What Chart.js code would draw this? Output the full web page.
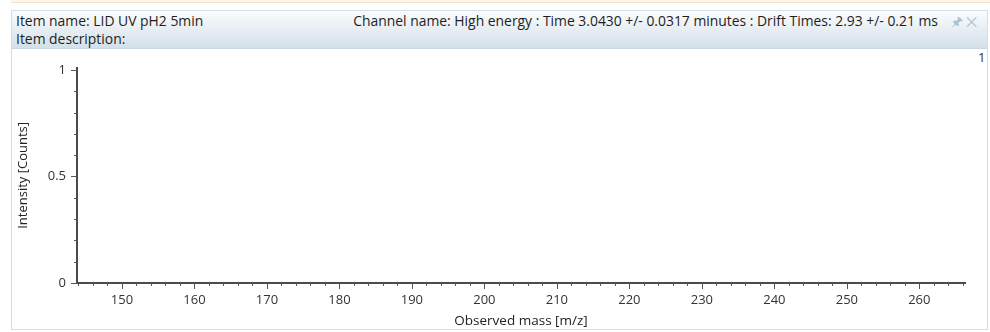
<!DOCTYPE html>
<html>
<head>
<meta charset="utf-8">
<script src="https://cdn.jsdelivr.net/npm/chart.js@4/dist/chart.umd.min.js"></script>
<style>
  body { margin: 0; width: 990px; height: 332px; background: #fff; font-family: "Open Sans", sans-serif; overflow: hidden; position: relative; }
  .topstrip { position: absolute; left: 11px; top: 0; width: 979px; height: 2px; background: #fbf6e8; border-bottom: 1px solid #efe6cf; }
  .panel { position: absolute; left: 11px; top: 10px; width: 975px; height: 318px; border: 1px solid #cfe0ea; background: #fff; }
  .header { position: absolute; left: 0; top: 0; width: 975px; height: 37px; background: linear-gradient(#fbfcfd, #d3e0e8); border-bottom: 1px solid #c9d9e3; font-size: 13.9px; color: #1e1e1e; }
  .header .l1 { position: absolute; left: 4px; top: 0px; }
  .header .l2 { position: absolute; left: 4px; top: 18px; }
  .header .r1 { position: absolute; right: 49px; top: 0px; }
  .header .icons { position: absolute; right: 10px; top: 1px; color: #aebfcc; font-size: 13px; }
  .corner { position: absolute; left: 978px; top: 48px; font-size: 13px; color: #333; }
  #wrap { position: absolute; left: 12px; top: 49px; width: 975px; height: 280px; }
</style>
</head>
<body>
<div class="topstrip"></div>
<div class="panel">
  <div class="header">
    <span class="l1">Item name: LID UV pH2 5min</span>
    <span class="l2">Item description:</span>
    <span class="r1">Channel name: High energy : Time 3.0430 +/- 0.0317 minutes : Drift Times: 2.93 +/- 0.21 ms</span>
    <span class="icons">&#x1F588;&nbsp;&#x2715;</span>
  </div>
</div>
<div class="corner">1</div>
<div id="wrap"><canvas id="spectrum-chart"></canvas></div>
<script>
// spectrum data (empty trace in the picture)
const massValues = []
const intensityValues = []

// axis ranges and tick labels
const xRange = [143.8, 266.3]
const yRange = [0, 1.01]
const xTicks = [150, 160, 170, 180, 190, 200, 210, 220, 230, 240, 250, 260]
const yTicks = [0, 0.5, 1]
const xMinorStep = 2
const yMinorStep = 0.1

Chart.defaults.font.family = "'Open Sans', sans-serif"
Chart.defaults.font.size = 13
Chart.defaults.color = '#333'

// draws the major/minor tick marks outside the axes
const tickMarks = {
    id: 'tickMarks',
    afterDraw(chart) {
        const ctx = chart.ctx
        const x = chart.scales.x
        const y = chart.scales.y
        const area = chart.chartArea
        ctx.save()
        ctx.strokeStyle = '#555'
        ctx.lineWidth = 1
        ctx.beginPath()
        for (let v = Math.ceil(xRange[0] / xMinorStep) * xMinorStep; v <= xRange[1]; v += xMinorStep) {
            const px = Math.round(x.getPixelForValue(v)) + 0.5
            const major = Math.abs(v % 10) < 1e-6
            ctx.moveTo(px, area.bottom)
            ctx.lineTo(px, area.bottom + (major ? 6 : 3))
        }
        for (let i = 0; i * yMinorStep <= yRange[1] + 1e-9; i++) {
            const v = i * yMinorStep
            const py = Math.round(y.getPixelForValue(v)) + 0.5
            const major = i % 5 === 0
            ctx.moveTo(area.left, py)
            ctx.lineTo(area.left - (major ? 6 : 3), py)
        }
        ctx.stroke()
        ctx.restore()
    }
}

const ctx = document.getElementById('spectrum-chart').getContext('2d')
const config = {
    type: 'scatter',
    data: {
        datasets: [{
            label: 'Intensity',
            data: massValues.map((m, i) => ({ x: m, y: intensityValues[i] })),
            showLine: true,
            borderColor: '#1f3fbf',
            borderWidth: 1,
            pointRadius: 0
        }]
    },
    options: {
        responsive: true,
        maintainAspectRatio: false,
        animation: false,
        layout: { padding: { top: 15, right: 22, left: 0, bottom: 0 } },
        plugins: {
            legend: { display: false },
            tooltip: { enabled: false }
        },
        scales: {
            x: {
                type: 'linear',
                min: xRange[0],
                max: xRange[1],
                afterBuildTicks: (s) => { s.ticks = xTicks.map(v => ({ value: v })) },
                afterFit: (s) => { s.height = 46 },
                ticks: { padding: 9, color: '#333', includeBounds: false, maxRotation: 0, callback: (v) => String(v) },
                grid: { drawOnChartArea: false, drawTicks: false },
                border: { display: true, color: '#4a4a4a', width: 2 },
                title: {
                    display: true,
                    text: 'Observed mass [m/z]',
                    color: '#222',
                    font: { size: 13.5 },
                    padding: { top: 0, bottom: 0 }
                }
            },
            y: {
                type: 'linear',
                min: yRange[0],
                max: yRange[1],
                afterBuildTicks: (s) => { s.ticks = yTicks.map(v => ({ value: v })) },
                afterFit: (s) => { s.width = 65 },
                ticks: { padding: 11, color: '#333', includeBounds: false, callback: (v) => String(v) },
                grid: { drawOnChartArea: false, drawTicks: false },
                border: { display: true, color: '#4a4a4a', width: 2 },
                title: {
                    display: true,
                    text: 'Intensity [Counts]',
                    color: '#222',
                    padding: { top: 3, bottom: 0 }
                }
            }
        }
    },
    plugins: [tickMarks]
}
const myChart = new Chart(ctx, config)
</script>
</body>
</html>
